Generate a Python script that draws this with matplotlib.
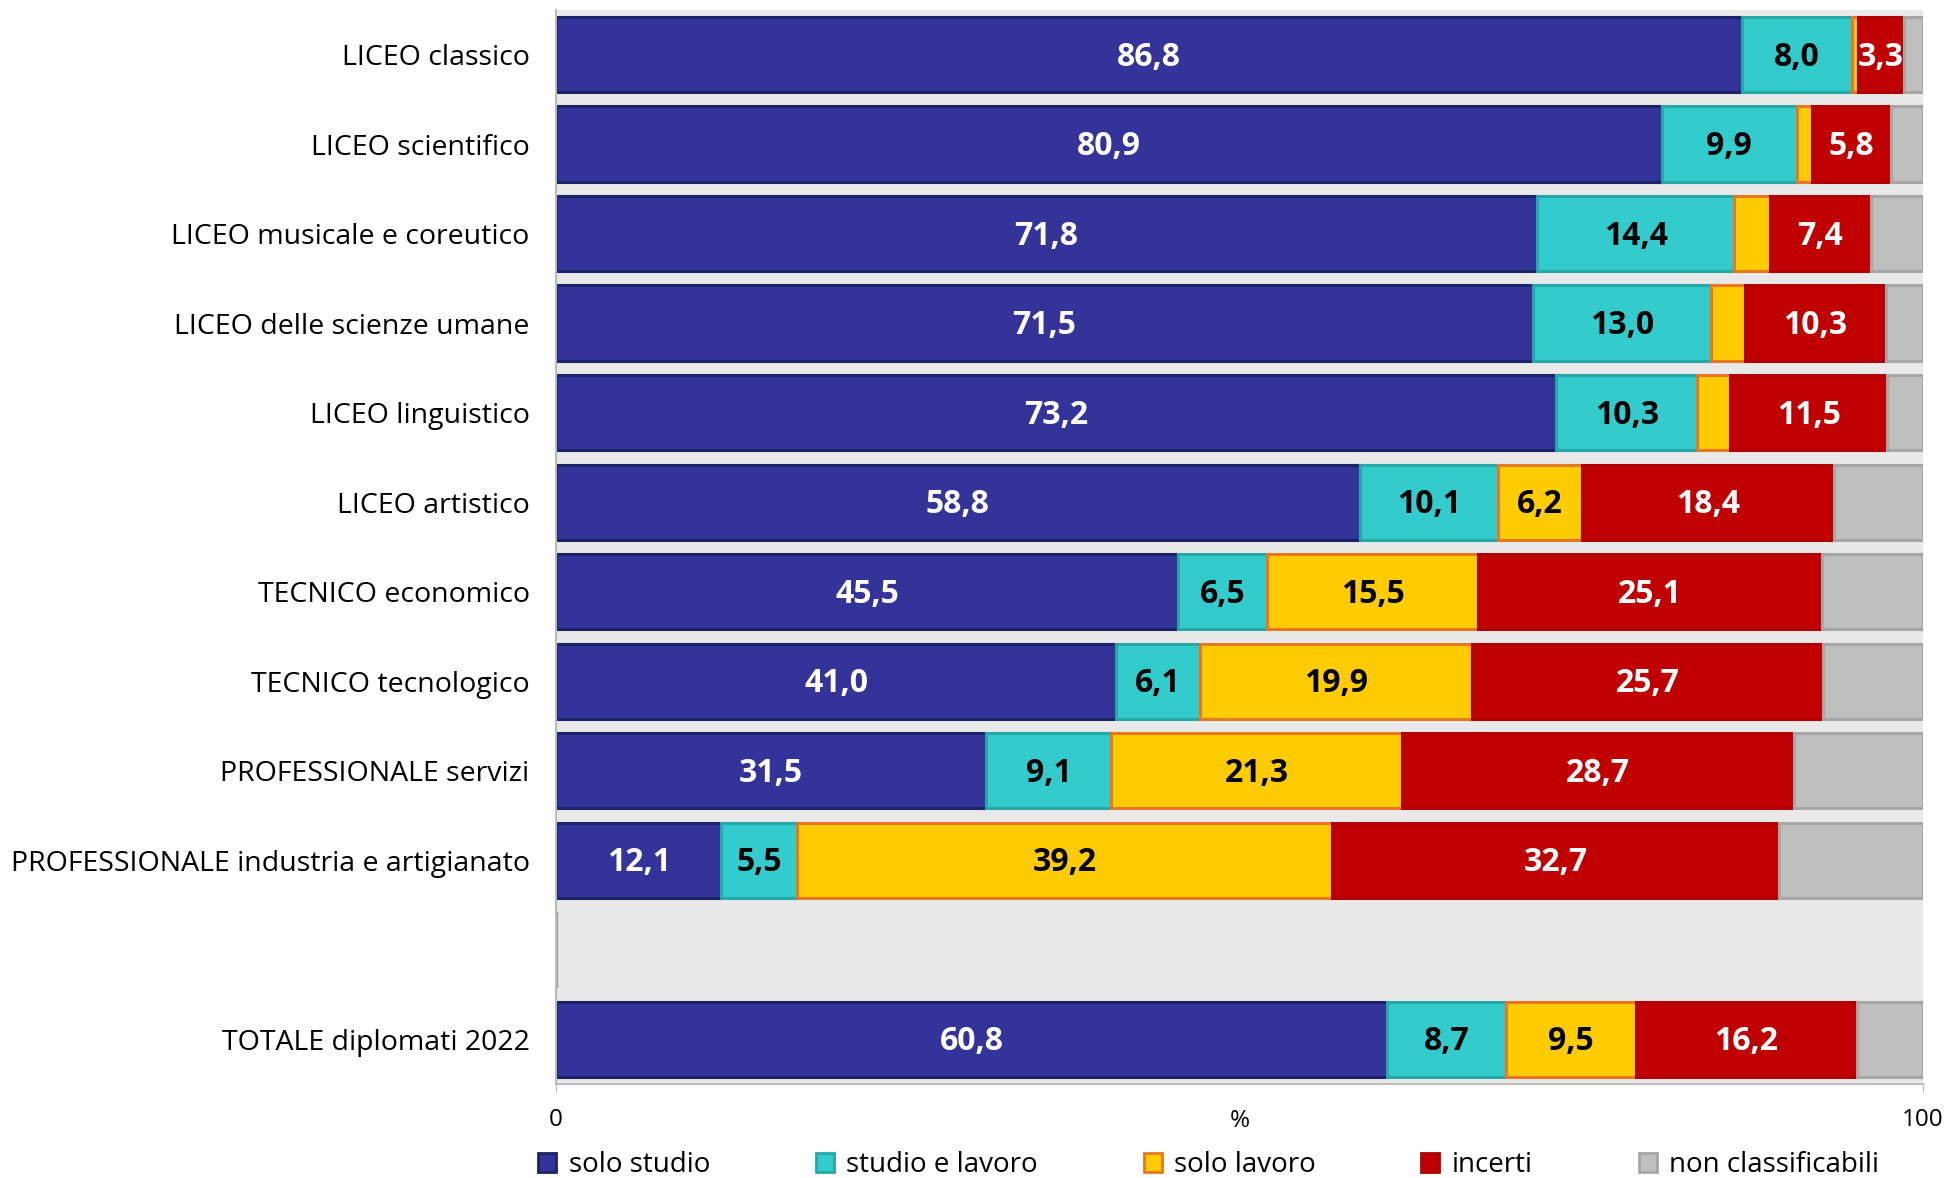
import matplotlib
matplotlib.use("Agg")
import matplotlib.pyplot as plt
from matplotlib.patches import Patch
import numpy as np

categories = [
    "LICEO classico",
    "LICEO scientifico",
    "LICEO musicale e coreutico",
    "LICEO delle scienze umane",
    "LICEO linguistico",
    "LICEO artistico",
    "TECNICO economico",
    "TECNICO tecnologico",
    "PROFESSIONALE servizi",
    "PROFESSIONALE industria e artigianato",
    "",
    "TOTALE diplomati 2022",
]
series_names = ["solo studio", "studio e lavoro", "solo lavoro", "incerti", "non classificabili"]
solo_studio = [86.8, 80.9, 71.8, 71.5, 73.2, 58.8, 45.5, 41.0, 31.5, 12.1, np.nan, 60.8]
studio_lavoro = [8.0, 9.9, 14.4, 13.0, 10.3, 10.1, 6.5, 6.1, 9.1, 5.5, np.nan, 8.7]
solo_lavoro = [0.5, 1.1, 2.6, 2.5, 2.4, 6.2, 15.5, 19.9, 21.3, 39.2, np.nan, 9.5]
incerti = [3.3, 5.8, 7.4, 10.3, 11.5, 18.4, 25.1, 25.7, 28.7, 32.7, np.nan, 16.2]
non_class = [1.4, 2.3, 3.8, 2.7, 2.6, 6.5, 7.4, 7.3, 9.4, 10.5, np.nan, 4.8]
x_ticks = [0, 100]
x_ticklabels = ["0", "100"]

face_colors = ["#333399", "#33CCCC", "#FFCC00", "#C00000", "#BFBFBF"]
edge_colors = ["#1A2466", "#26A8A8", "#E87722", "#B00000", "#A6A6A6"]
text_colors = ["white", "black", "black", "white", None]

plt.rcParams["font.family"] = ["Open Sans", "DejaVu Sans"]

fig = plt.figure(figsize=(19.48, 11.78), dpi=100)
ax = fig.add_axes([0.2854, 0.0798, 0.7016, 0.9119])
ax.set_facecolor("#E9E9E9")

data = [solo_studio, studio_lavoro, solo_lavoro, incerti, non_class]
y = np.arange(len(categories))
left = np.zeros(len(categories))
for s, vals in enumerate(data):
    v = np.array(vals, dtype=float)
    vv = np.nan_to_num(v)
    ax.barh(y, vv, left=left, height=0.84, color=face_colors[s],
            edgecolor=edge_colors[s], linewidth=2.2)
    if text_colors[s] is not None:
        for i in range(len(categories)):
            if not np.isnan(v[i]) and v[i] >= 3:
                ax.text(left[i] + v[i] / 2, y[i] + 0.03, f"{v[i]:.1f}".replace(".", ","),
                        ha="center", va="center", color=text_colors[s],
                        fontsize=23, fontweight="bold")
    left = left + vv

ax.set_xlim(0, 100)
ax.set_ylim(len(categories) - 0.5, -0.5)
ax.set_yticks(y)
ax.set_yticklabels(categories, fontsize=20.5)
ax.tick_params(axis="y", length=0, pad=19)
ax.set_xticks(x_ticks)
ax.set_xticklabels(x_ticklabels, fontsize=17.5)
ax.tick_params(axis="x", length=6, color="#BBBBBB", pad=11, direction="out")
ax.set_xlabel("%", fontsize=17.5, labelpad=-16)
for sp in ["top", "right"]:
    ax.spines[sp].set_visible(False)
ax.spines["left"].set_color("#BBBBBB")
ax.spines["bottom"].set_color("#BBBBBB")
ax.spines["left"].set_linewidth(1.5)
ax.spines["bottom"].set_linewidth(1.5)

handles = [Patch(facecolor=face_colors[i], edgecolor=edge_colors[i], linewidth=2)
           for i in range(5)]
fig.legend(handles, series_names, loc="center", bbox_to_anchor=(0.6205, 0.011),
           ncol=5, frameon=False, fontsize=20, handlelength=0.65, handleheight=0.65,
           handletextpad=0.45, columnspacing=3.8, borderpad=0)

fig.savefig("out.png", dpi=100)
